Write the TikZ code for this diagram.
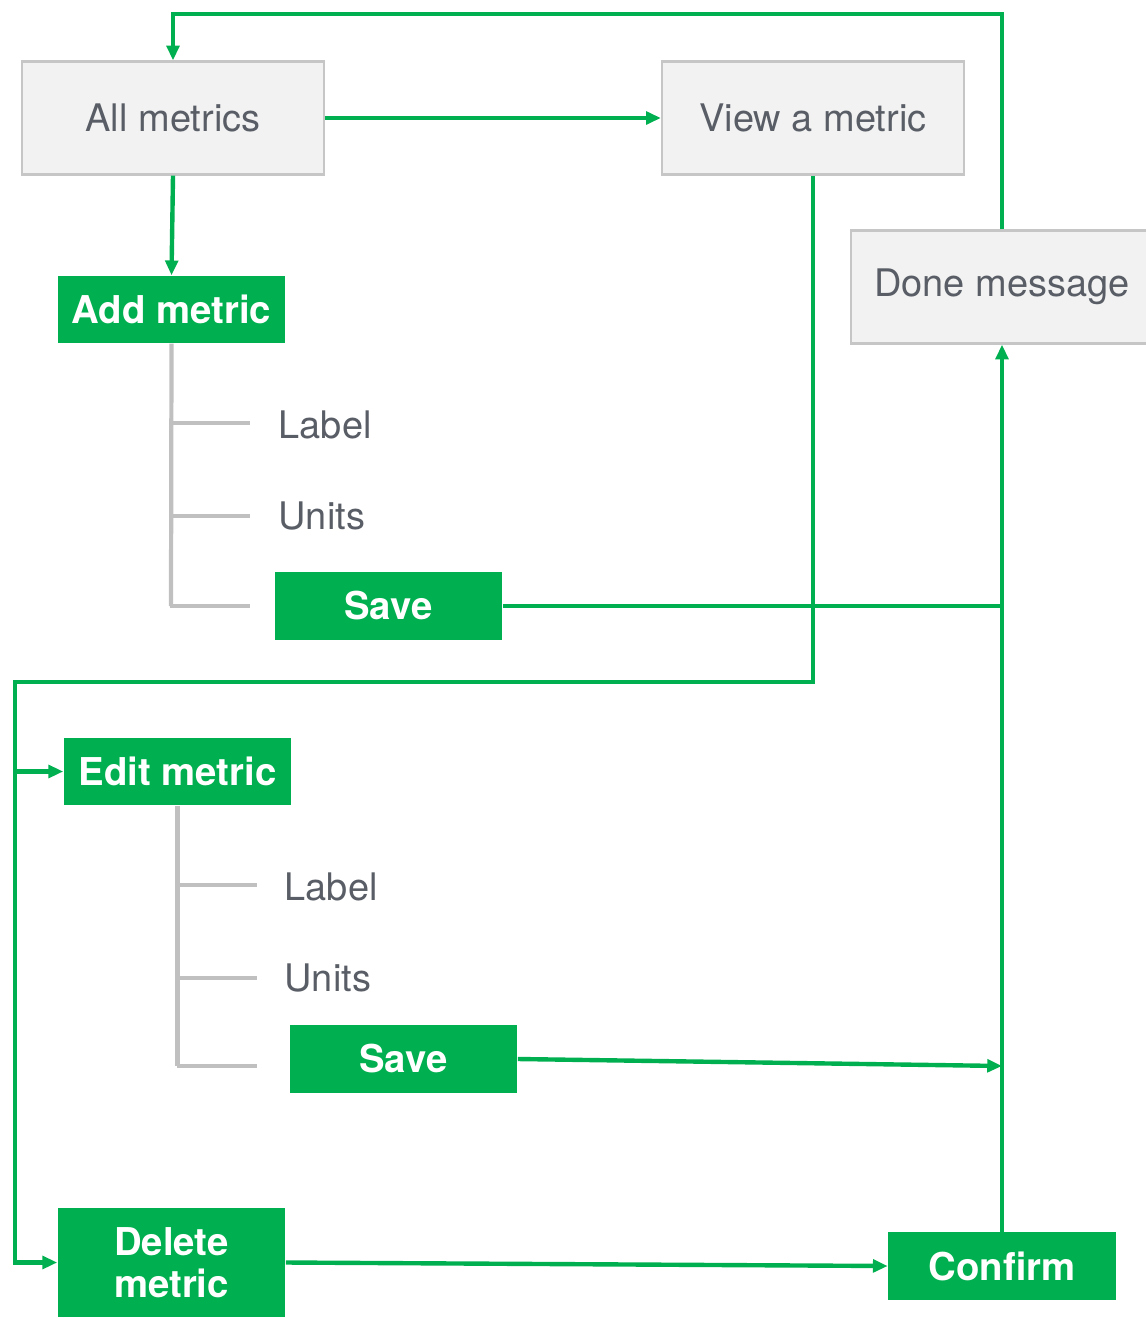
\documentclass[tikz,border=0pt]{standalone}
\usepackage{fontspec}
\setmainfont{TeX Gyre Heros}
\usepackage{xcolor}
\usepackage{tikz}
\usetikzlibrary{calc}
\usetikzlibrary{arrows.meta}
\usetikzlibrary{positioning}
\definecolor{flowgreen}{HTML}{00B050}
\definecolor{screenfill}{HTML}{F2F2F2}
\definecolor{screenline}{HTML}{C6C6C6}
\definecolor{screentext}{HTML}{595E66}
\definecolor{treegray}{HTML}{C0C0C0}
\tikzset{>={Triangle[length=4.2pt,width=3.6pt]}}
\tikzstyle{screen} = [rectangle, draw=screenline, fill=screenfill, line width=0.6pt, text=screentext, minimum width=3.02cm, minimum height=1.13cm, inner sep=0pt]
\tikzstyle{action} = [rectangle, fill=flowgreen, text=white, font=\fontsize{10.9}{12}\selectfont\bfseries, minimum width=2.27cm, minimum height=0.67cm, inner sep=0pt, align=center]
\tikzstyle{field} = [anchor=west, text=screentext, inner sep=0pt]
\tikzstyle{flow} = [->, draw=flowgreen, line width=1.25pt]
\tikzstyle{tree} = [-, draw=treegray, line width=1.2pt]

\begin{document}
\begin{tikzpicture}[x=0.01cm, y=-0.01cm, font=\fontsize{10.8}{12}\selectfont]
\useasboundingbox (0,0) rectangle (1146,1318);
% screens
\node [screen] (all) at (173, 118) {All metrics};
\node [screen] (view) at (813, 118) {View a metric};
\node [screen] (done) at (1002, 287) {Done message};
% actions
\node [action] (add) at (171.5, 309.5) {Add metric};
\node [action] (save1) at (388.5, 606) {Save};
\node [action] (edit) at (177.5, 771.5) {Edit metric};
\node [action] (save2) at (403.5, 1059) {Save};
\node [action, minimum height=1.09cm] (delete) at (171.5, 1262.5) {Delete\\metric};
\node [action] (confirm) at (1002, 1266) {Confirm};
% form fields
\node [field] (addlabel) at (278, 425) {Label};
\node [field] (addunits) at (278, 516) {Units};
\node [field] (editlabel) at (284, 887) {Label};
\node [field] (editunits) at (284, 978) {Units};
% gray trees under add / edit
\draw [tree] (add.south) -- (171, 606);
\foreach \y in {423, 516, 606}
  \draw [tree] (170.4, \y) -- (250, \y);
\draw [tree] (edit.south) -- (177.5, 1066);
\foreach \y in {885, 978, 1066}
  \draw [tree] (176.9, \y) -- (257, \y);
% flow
\coordinate (top) at (0, 14);
\coordinate (lane) at (15, 682);
\draw [flow] (done.north) |- (top -| all.north) -- (all.north);
\draw [flow] (all) to (view);
\draw [flow] (all.south) to (add.north);
\draw [flow] (view.south) |- (lane) |- (delete.west);
\draw [flow] (lane |- edit.west) to (edit.west);
\draw [flow, -] (save1.east) -| (confirm.north |- save1.east);
\draw [flow] (confirm.north) to (done.south);
\draw [flow] (save2.east) to (confirm.north |- 0, 1066);
\draw [flow] (delete.east) to (confirm.west);
\end{tikzpicture}
\end{document}
